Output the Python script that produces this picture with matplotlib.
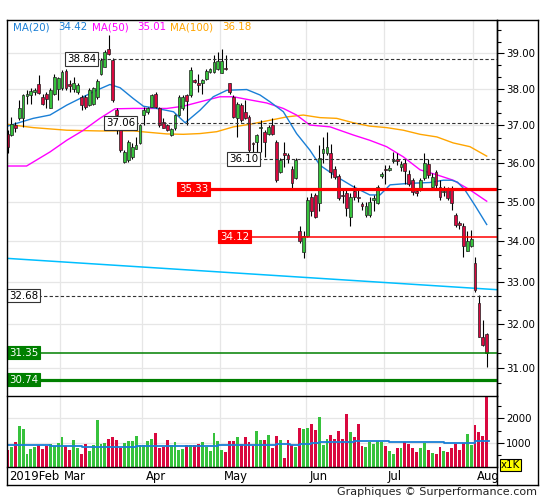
import numpy as np
import matplotlib
matplotlib.use('Agg')
import matplotlib.pyplot as plt
from matplotlib.ticker import FixedLocator, NullFormatter, FuncFormatter, NullLocator
from matplotlib.lines import Line2D
import matplotlib.transforms as mtransforms

# ---------------- data ----------------
opens = [36.78, 36.74, 37.01, 37.19, 37.19, 37.80, 37.83, 37.92, 38.12, 37.78,
         37.87, 37.46, 37.87, 38.00, 38.01, 38.49, 38.12, 37.99, 37.92, 37.78,
         37.78, 37.55, 37.59, 37.78, 38.41, 38.62, 39.13, 38.80, 37.41, 37.01,
         36.03, 36.07, 36.15, 36.38, 36.52, 37.28, 37.37, 37.50, 37.85, 37.46,
         37.10, 37.01, 36.74, 36.92, 37.28, 37.46, 37.83, 37.83, 38.24, 38.15,
         38.15, 38.28, 38.47, 38.47, 38.56, 38.45, 38.58, 38.15, 37.78, 37.19,
         37.55, 37.37, 37.23, 36.52, 36.56, 36.92, 36.83, 36.78, 37.01, 36.56,
         35.77, 36.25, 36.22, 35.84, 35.60, 34.26, 33.73, 34.14, 35.13, 35.17,
         34.96, 36.25, 36.25, 36.25, 35.84, 35.66, 35.17, 35.21, 34.60, 35.26,
         35.10, 34.94, 34.65, 34.65, 35.05, 34.96, 35.65, 35.85, 35.81, 36.04,
         36.10, 35.90, 36.00, 35.71, 35.55, 35.27, 35.34, 35.60, 35.97, 35.38,
         35.77, 35.38, 35.25, 35.30, 35.34, 34.65, 34.47, 34.38, 33.77, 33.89,
         33.46, 32.51, 31.70, 31.77]
highs = [36.87, 37.23, 37.10, 37.69, 37.87, 37.96, 38.03, 38.03, 38.38, 37.87,
         37.92, 38.03, 38.41, 38.33, 38.52, 38.54, 38.24, 38.33, 38.15, 37.83,
         37.83, 38.01, 38.05, 38.28, 38.85, 39.10, 39.52, 38.85, 37.46, 37.10,
         36.34, 36.60, 36.52, 36.70, 37.05, 37.50, 37.50, 37.87, 37.90, 37.50,
         37.19, 37.05, 36.92, 37.32, 37.83, 37.83, 37.87, 38.61, 38.28, 38.41,
         38.28, 38.56, 38.59, 38.94, 39.03, 39.13, 38.94, 38.17, 37.83, 37.64,
         37.60, 37.69, 37.28, 36.56, 36.78, 37.14, 36.87, 37.01, 37.19, 36.60,
         36.12, 36.56, 36.25, 35.93, 36.12, 34.38, 34.26, 35.13, 35.21, 35.21,
         36.47, 36.69, 36.82, 36.51, 35.93, 35.70, 35.30, 35.30, 35.21, 35.42,
         35.30, 35.00, 35.00, 35.13, 35.17, 35.42, 35.76, 35.95, 35.95, 36.29,
         36.25, 36.05, 36.10, 35.82, 35.60, 35.35, 35.60, 36.25, 36.10, 35.73,
         35.82, 35.55, 35.40, 35.38, 35.40, 34.70, 34.50, 34.45, 34.25, 34.29,
         33.62, 32.70, 32.10, 31.80]
lows = [36.27, 36.72, 36.83, 37.14, 36.96, 37.59, 37.58, 37.83, 37.87, 37.55,
        37.46, 37.46, 37.83, 37.69, 37.98, 37.98, 37.92, 37.92, 37.87, 37.41,
        37.45, 37.52, 37.55, 37.73, 38.38, 38.60, 38.94, 37.64, 36.78, 36.29,
        35.99, 36.03, 36.10, 36.36, 36.50, 37.01, 37.30, 37.50, 37.48, 36.96,
        36.92, 36.85, 36.72, 36.87, 37.25, 37.41, 37.01, 37.78, 38.15, 37.92,
        37.87, 38.24, 38.44, 38.43, 38.52, 38.43, 38.52, 37.87, 37.19, 36.70,
        37.10, 37.16, 36.29, 36.25, 36.29, 36.29, 36.16, 36.74, 36.74, 35.50,
        35.75, 35.90, 36.00, 35.30, 35.58, 33.95, 33.58, 34.10, 34.63, 34.59,
        34.75, 35.99, 36.20, 35.60, 35.58, 35.04, 34.96, 34.63, 34.38, 35.04,
        35.00, 34.79, 34.60, 34.62, 34.76, 34.93, 35.62, 35.45, 35.78, 35.99,
        35.95, 35.80, 35.45, 35.40, 35.18, 35.15, 35.28, 35.55, 35.60, 35.30,
        35.35, 35.05, 35.15, 35.04, 34.79, 34.36, 34.30, 33.62, 33.75, 33.85,
        32.76, 31.71, 31.50, 31.03]
closes = [36.42, 37.05, 36.92, 37.46, 37.83, 37.85, 37.94, 37.96, 37.89, 37.58,
          37.71, 37.98, 38.33, 38.29, 38.47, 38.01, 38.08, 38.15, 38.10, 37.55,
          37.50, 37.96, 38.01, 38.22, 38.80, 39.03, 38.97, 37.69, 37.28, 36.34,
          36.29, 36.56, 36.43, 36.47, 37.01, 37.41, 37.46, 37.83, 37.50, 37.01,
          36.94, 36.87, 36.89, 37.28, 37.78, 37.78, 37.66, 38.52, 38.20, 38.10,
          38.24, 38.49, 38.56, 38.76, 38.77, 38.77, 38.54, 37.92, 37.23, 37.59,
          37.14, 37.19, 36.34, 36.50, 36.74, 36.96, 36.56, 36.96, 36.78, 35.55,
          36.07, 36.20, 36.10, 35.48, 36.07, 34.02, 34.14, 35.04, 34.75, 34.60,
          36.12, 36.38, 36.43, 35.77, 35.64, 35.08, 35.15, 34.83, 35.13, 35.13,
          35.08, 34.90, 34.88, 35.00, 35.08, 35.38, 35.72, 35.81, 35.88, 36.09,
          36.05, 35.96, 35.80, 35.45, 35.25, 35.23, 35.55, 36.01, 35.69, 35.64,
          35.43, 35.13, 35.28, 35.08, 34.96, 34.41, 34.40, 33.89, 34.02, 34.07,
          32.81, 31.71, 31.53, 31.33]
volumes = [688, 812, 1019, 1680, 1556, 523, 730, 812, 909, 730,
           854, 936, 868, 978, 1225, 868, 688, 1102, 771, 523,
           936, 647, 895, 1928, 936, 978, 1143, 1225, 1102, 771,
           978, 1060, 1060, 1267, 895, 895, 1060, 1143, 1391, 771,
           812, 1102, 895, 1019, 688, 730, 895, 895, 895, 936,
           1019, 812, 647, 1391, 1060, 688, 606, 1060, 1060, 1225,
           936, 1225, 1019, 854, 1473, 1102, 1102, 1308, 785, 1267,
           1102, 358, 1102, 895, 812, 1597, 1556, 1597, 1763, 1515,
           2052, 895, 1143, 1308, 1143, 1473, 1143, 2176, 1432, 1225,
           1763, 854, 812, 1019, 936, 1060, 1019, 854, 647, 523,
           771, 771, 1019, 936, 771, 606, 771, 978, 688, 565,
           523, 812, 647, 606, 771, 936, 688, 978, 1349, 895,
           1721, 1432, 1267, 3100]

ma20_idx = [0, 6.6, 10.9, 15.2, 19.5, 22.9, 26.3, 28.9, 32.3, 34.9, 38.3, 42.6, 45.6,
            49.4, 52.8, 56.3, 61.4, 64.8, 67.4, 70.8, 74.2, 77.6, 80.2, 84.5, 88.8,
            93.0, 95.6, 98.2, 103.3, 108.4, 111.9, 114.0, 115.5, 117.4, 120.0, 123.0]
ma20_val = [36.98, 37.19, 37.28, 37.55, 37.78, 37.96, 38.12, 38.03, 37.73, 37.52, 37.46,
            37.37, 37.07, 37.41, 37.78, 37.96, 37.98, 37.83, 37.64, 37.37, 36.78, 36.34,
            35.94, 35.64, 35.38, 35.17, 35.17, 35.43, 35.47, 35.49, 35.55, 35.55, 35.50,
            35.30, 34.90, 34.42]
ma50_idx = [0, 4.9, 10.9, 15.2, 19.5, 23.7, 27.6, 32.3, 40.9, 45.1, 49.4, 54.5, 58.0,
            61.4, 66.5, 70.8, 74.2, 77.6, 82.8, 88.8, 93.0, 97.3, 101.6, 105.9, 110.2,
            114.4, 118.7, 123.0]
ma50_val = [35.92, 35.92, 36.29, 36.60, 36.87, 37.19, 37.45, 37.46, 37.46, 37.52, 37.64,
            37.78, 37.78, 37.71, 37.61, 37.46, 37.28, 37.01, 36.96, 36.74, 36.60, 36.43,
            36.16, 35.82, 35.69, 35.55, 35.30, 35.01]
ma100_idx = [0, 6.6, 15.2, 23.7, 32.3, 36.6, 40.9, 45.1, 49.4, 53.7, 58.0, 62.2, 66.5,
             71.7, 75.9, 80.2, 84.5, 88.8, 93.0, 97.3, 101.6, 105.9, 110.2, 114.4,
             118.7, 123.0]
ma100_val = [37.03, 36.94, 36.87, 36.85, 36.85, 36.81, 36.77, 36.76, 36.78, 36.83, 36.96,
             37.03, 37.12, 37.23, 37.28, 37.21, 37.19, 37.07, 36.98, 36.94, 36.87, 36.76,
             36.69, 36.53, 36.43, 36.18]
trend_idx = [0, 126]
trend_val = [33.58, 32.82]

vma_idx = [0, 11, 19, 33, 54, 69, 72.5, 75, 78, 80, 89, 98, 112, 120, 123.5]
vma_val = [922, 868, 826, 880, 922, 964, 922, 964, 1005, 1046, 1088, 1046, 1005, 1060, 1060]

levels = [38.84, 37.06, 36.10, 35.33, 34.12, 32.68, 31.35, 30.74]
level_kind = ['dash', 'dash', 'dash', 'red2', 'red1', 'dash', 'green1', 'green2']

ma_names = ['MA(20)', 'MA(50)', 'MA(100)']
ma_last = ['34.42', '35.01', '36.18']

month_labels = ['2019Feb', 'Mar', 'Apr', 'May', 'Jun', 'Jul', 'Aug']
month_idx = [0, 14, 35, 55, 77, 97, 120]

price_ticks = [31, 32, 33, 34, 35, 36, 37, 38, 39]
vol_ticks = [1000, 2000]

# ---------------- layout ----------------
W, H = 545, 500
fig = plt.figure(figsize=(W / 100, H / 100), dpi=100)
fig.patch.set_facecolor('white')


def rect(l, t, r, b):
    return [l / W, 1 - b / H, (r - l) / W, (b - t) / H]


X0, DX = 7.5, 3.896


def px2i(x):
    return (x - X0) / DX


XL = (px2i(6.5), px2i(497))

RED = '#d9083f'
GREEN = '#36c23c'
C20, C50, C100 = '#1a7fd6', '#ff00ff', '#ffa500'
GRID = '#e6e6e6'

ax = fig.add_axes(rect(6.5, 19.5, 497, 395.5))
axv = fig.add_axes(rect(6.5, 395.5, 497, 467))
axd = fig.add_axes(rect(6.5, 467, 497, 485))

for a in (ax, axv, axd):
    for s in a.spines.values():
        s.set_visible(False)
    a.set_xlim(*XL)
    a.xaxis.set_major_locator(NullLocator())
    a.set_facecolor('none')

axd.yaxis.set_major_locator(NullLocator())

# price axis
ax.set_yscale('log')
ax.set_ylim(30.385, 39.97)
ax.yaxis.tick_right()
ax.yaxis.set_major_locator(FixedLocator(price_ticks))
ax.yaxis.set_major_formatter(FuncFormatter(lambda v, p: f'{v:.2f}'))
minor = []
for t in range(30, 40):
    minor += [t + 1 / 3, t + 2 / 3]
ax.yaxis.set_minor_locator(FixedLocator(minor))
ax.yaxis.set_minor_formatter(NullFormatter())
ax.tick_params(axis='y', which='major', length=5, width=0.8, pad=1.5, labelsize=7.4, colors='black')
ax.tick_params(axis='y', which='minor', length=3, width=0.8)
ax.grid(axis='y', which='major', color=GRID, lw=0.9, zorder=0)
ax.set_axisbelow(True)

for m in month_idx[1:]:
    ax.axvline(m - 0.4, color=GRID, lw=0.9, zorder=0)
    axv.axvline(m - 0.4, color=GRID, lw=0.9, zorder=0)

o = np.array(opens); h = np.array(highs); l = np.array(lows); c = np.array(closes)
idx = np.arange(len(o))
up = c >= o
cols = np.where(up, GREEN, RED)

# trend line & MAs
ax.plot(trend_idx, trend_val, color='#00bfff', lw=1.1, zorder=2)
ax.plot(ma100_idx, ma100_val, color=C100, lw=1.0, zorder=2)
ax.plot(ma50_idx, ma50_val, color=C50, lw=1.0, zorder=2)
ax.plot(ma20_idx, ma20_val, color=C20, lw=1.0, zorder=2)

# candles
ax.vlines(idx, l, h, color='black', lw=0.8, zorder=3)
body_lo = np.minimum(o, c)
body_h = np.maximum(np.abs(c - o), 0.025)
ax.bar(idx, body_h, bottom=body_lo, width=0.72, color=cols, edgecolor='#202020',
       lw=0.5, zorder=4)

# levels
label_left_px = [65, 104, 227, 177, 218, 7, 7, 7]
for lev, kind, lp in zip(levels, level_kind, label_left_px):
    x_end = px2i(lp + 31)
    if kind == 'dash':
        ax.hlines(lev, x_end, XL[1], color='#333333', lw=0.8, linestyles=(0, (3, 2)), zorder=5)
        fc, ec, tc = 'white', '#333333', 'black'
    elif kind.startswith('red'):
        ax.hlines(lev, x_end, XL[1], color='#ff0000', lw=2.3 if kind == 'red2' else 1.1, zorder=5)
        fc, ec, tc = '#ff0000', '#ff0000', 'white'
    else:
        ax.hlines(lev, x_end, XL[1], color='#008000', lw=2.3 if kind == 'green2' else 1.1, zorder=5)
        fc, ec, tc = '#008000', '#008000', 'white'
    ax.text(px2i(lp + 2), lev, f'{lev:.2f}', fontsize=7.4, color=tc, ha='left', va='center',
            zorder=6, bbox=dict(boxstyle='square,pad=0.18', fc=fc, ec=ec, lw=0.8))

# volume
axv.set_ylim(0, 2942)
axv.yaxis.tick_right()
axv.yaxis.set_major_locator(FixedLocator(vol_ticks))
axv.yaxis.set_major_formatter(FuncFormatter(lambda v, p: f'{int(v)}'))
axv.yaxis.set_minor_locator(FixedLocator([500, 1500, 2500]))
axv.tick_params(axis='y', which='major', length=5, width=0.8, pad=1.5, labelsize=7.4)
axv.tick_params(axis='y', which='minor', length=3, width=0.8)
axv.grid(axis='y', which='major', color=GRID, lw=0.9, zorder=0)
axv.set_axisbelow(True)
axv.bar(idx, volumes, width=0.74, color=cols, lw=0, zorder=2)
axv.step(vma_idx, vma_val, where='post', color=C20, lw=1.3, zorder=3)

for a in (ax, axv):
    a.spines['right'].set_visible(True)
    a.spines['right'].set_linewidth(1.0)

# date labels
trans = mtransforms.blended_transform_factory(axd.transData, axd.transAxes)
for lab, m in zip(month_labels, month_idx):
    axd.text(m + 0.5 if m > 0 else 0.5, 0.45, lab, transform=trans, fontsize=8.4,
             ha='left', va='center')


def fline(x1, y1, x2, y2, lw=1.0):
    fig.add_artist(Line2D([x1 / W, x2 / W], [1 - y1 / H, 1 - y2 / H], color='black', lw=lw,
                          transform=fig.transFigure))


fline(6.5, 19.5, 538, 19.5)
fline(6.5, 485, 538, 485)
fline(6.5, 19.5, 6.5, 485)
fline(538, 19.5, 538, 485)
fline(497, 19.5, 497, 485)
fline(6.5, 395.5, 497, 395.5)
fline(6.5, 467, 497, 467)

# legend texts
xs = [13, 92, 170]
xv = [58, 137, 222]
for name, val, col, x1, x2 in zip(ma_names, ma_last, [C20, C50, C100], xs, xv):
    fig.text(x1 / W, 1 - 27 / H, name, color=col, fontsize=7.4, ha='left', va='center')
    fig.text(x2 / W, 1 - 27 / H, val, color=col, fontsize=7.4, ha='left', va='center')

fig.text(501 / W, 1 - 465 / H, 'x1K', fontsize=7.4, ha='left', va='center',
         bbox=dict(boxstyle='square,pad=0.12', fc='#ffff00', ec='black', lw=0.8))

fig.text(537 / W, 1 - 492 / H, 'Graphiques \u00a9 Surperformance.com', fontsize=8,
         ha='right', va='center', color='#222222')

fig.savefig('out.png', dpi=100)
